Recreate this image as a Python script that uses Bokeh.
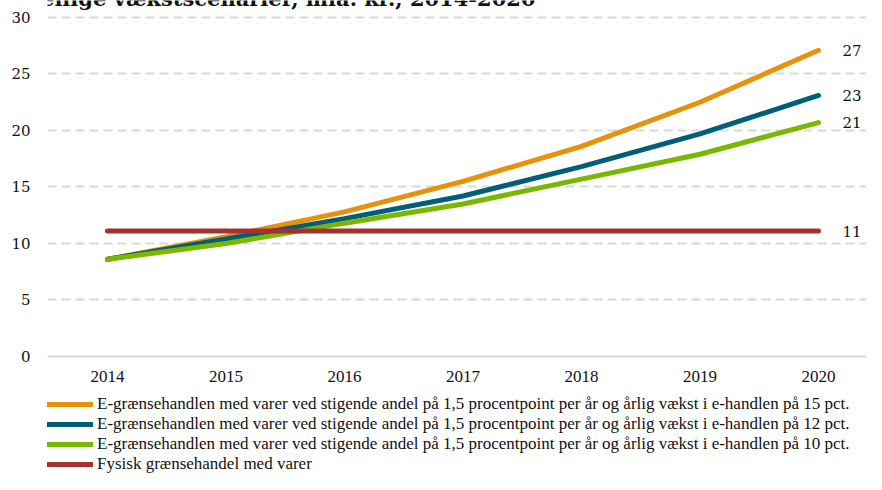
from bokeh.plotting import figure
from bokeh.models import ColumnDataSource, Legend, LegendItem, Label, FixedTicker, Range1d
from bokeh.layouts import column
from bokeh.core.properties import value
from bokeh.embed import file_html
from bokeh.resources import INLINE

title_text = "E-grænsehandel i forskellige vækstscenarier, mia. kr., 2014-2020"
years = [2014, 2015, 2016, 2017, 2018, 2019, 2020]
e_15 = [8.6, 10.6, 12.8, 15.5, 18.6, 22.5, 27.1]
e_12 = [8.6, 10.4, 12.2, 14.2, 16.8, 19.7, 23.1]
e_10 = [8.6, 10.0, 11.8, 13.5, 15.7, 17.9, 20.7]
fysisk = [11.1, 11.1, 11.1, 11.1, 11.1, 11.1, 11.1]
series_names = [
    "E-grænsehandlen med varer ved stigende andel på 1,5 procentpoint per år og årlig vækst i e-handlen på 15 pct.",
    "E-grænsehandlen med varer ved stigende andel på 1,5 procentpoint per år og årlig vækst i e-handlen på 12 pct.",
    "E-grænsehandlen med varer ved stigende andel på 1,5 procentpoint per år og årlig vækst i e-handlen på 10 pct.",
    "Fysisk grænsehandel med varer",
]
colors = ["#e8910a", "#005e78", "#7ab800", "#a3312f"]
y_ticks = [0, 5, 10, 15, 20, 25, 30]

W = 866
p = figure(width=W, height=394, output_backend="svg", toolbar_location=None,
           x_range=Range1d(2013.494, 2020.405), y_range=Range1d(0, 31.504),
           min_border_left=47, min_border_right=0, min_border_top=0, min_border_bottom=38)
p.outline_line_color = None
p.background_fill_color = "white"
p.border_fill_color = "white"
p.xgrid.grid_line_color = None
p.ygrid.grid_line_color = "#dadada"
p.ygrid.grid_line_width = 2
p.ygrid.grid_line_dash = "9 5"

p.yaxis.ticker = FixedTicker(ticks=y_ticks)
p.xaxis.ticker = FixedTicker(ticks=years)
p.yaxis.axis_line_color = None
p.yaxis.major_tick_line_color = None
p.yaxis.minor_tick_line_color = None
p.yaxis.major_tick_out = 0
p.yaxis.major_label_standoff = 17
p.yaxis.major_label_text_font = "DejaVu Serif"
p.yaxis.major_label_text_font_size = "15px"
p.yaxis.major_label_text_color = "#111111"

p.xaxis.axis_line_color = "#dadada"
p.xaxis.axis_line_width = 2
p.xaxis.major_tick_line_color = None
p.xaxis.minor_tick_line_color = None
p.xaxis.major_tick_out = 0
p.xaxis.major_label_standoff = 14
p.xaxis.major_label_text_font = "Liberation Serif"
p.xaxis.major_label_text_font_size = "17px"
p.xaxis.major_label_text_color = "#111111"

all_series = [e_15, e_12, e_10, fysisk]
for vals, col in zip(all_series, colors):
    src = ColumnDataSource(dict(x=years, y=vals))
    p.line("x", "y", source=src, line_color=col, line_width=5, line_cap="round")

# end value labels
lab_src = ColumnDataSource(dict(
    x=[years[-1]] * len(all_series),
    y=[s[-1] for s in all_series],
    t=[str(round(s[-1])) for s in all_series],
))
p.text("x", "y", text="t", source=lab_src, x_offset=24, text_baseline="middle",
       text_align="left", text_font=value("DejaVu Serif"), text_font_size="15px",
       text_color="#111111")

title = Label(x=488, y=358, x_units="screen", y_units="screen", text=title_text,
              text_align="right", text_baseline="alphabetic",
              text_font="DejaVu Serif", text_font_style="bold", text_font_size="21px",
              text_color="#111111")
p.add_layout(title)

# legend strip (series drawn outside its visible range; only legend glyphs show)
p2 = figure(width=W, height=80, output_backend="svg", toolbar_location=None,
            x_range=Range1d(0, 1), y_range=Range1d(0, 1),
            min_border_left=0, min_border_right=0, min_border_top=0, min_border_bottom=0)
p2.axis.visible = False
p2.grid.grid_line_color = None
p2.outline_line_color = None
leg_renderers = []
for vals, col in zip(all_series, colors):
    src = ColumnDataSource(dict(x=years, y=vals))
    leg_renderers.append(p2.line("x", "y", source=src, line_color=col, line_width=5, line_cap="round"))
legend = Legend(items=[LegendItem(label=n, renderers=[r]) for n, r in zip(series_names, leg_renderers)],
                location=(0, 0), orientation="vertical")
legend.label_text_font = "Liberation Serif"
legend.label_text_font_size = "17px"
legend.label_text_color = "#111111"
legend.glyph_width = 46
legend.glyph_height = 20
legend.label_height = 20
legend.label_standoff = 4
legend.spacing = 0
legend.padding = 0
legend.margin = 0
legend.border_line_alpha = 0
legend.background_fill_alpha = 0
p2.add_layout(legend, "center")

layout = column(p, p2, spacing=0)
open("out.html", "w").write(file_html(layout, INLINE))
